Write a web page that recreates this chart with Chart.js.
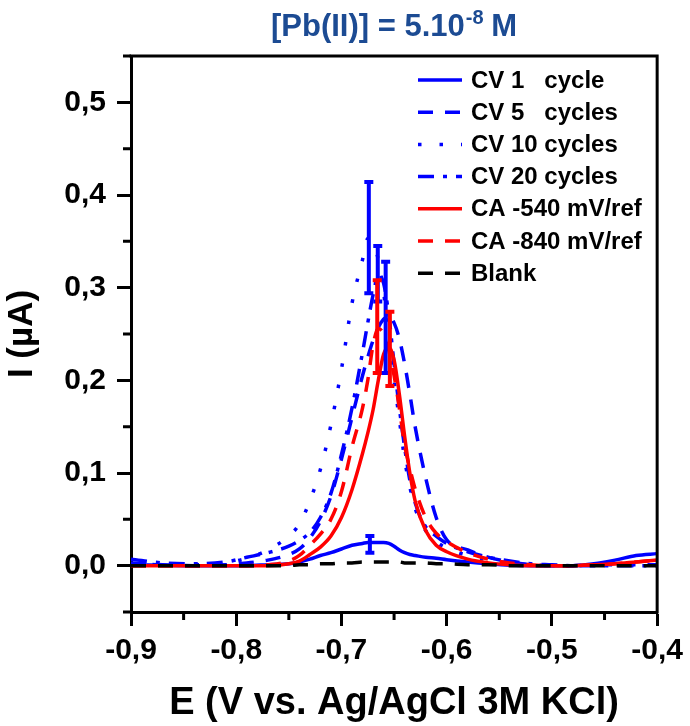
<!DOCTYPE html>
<html>
<head>
<meta charset="utf-8">
<script src="https://cdn.jsdelivr.net/npm/chart.js@4.4.1/dist/chart.umd.min.js"></script>
<style>
  html, body { margin: 0; padding: 0; background: #fff; }
  #wrap { width: 690px; height: 726px; position: relative; }
</style>
</head>
<body>
<div id="wrap"><canvas id="chart"></canvas></div>
<script>
// potential axis (V vs. Ag/AgCl), shared by every curve
const potential = [-0.90, -0.87, -0.84, -0.81, -0.79, -0.77, -0.75, -0.74, -0.73, -0.72, -0.71, -0.70,
  -0.69, -0.68, -0.675, -0.67, -0.665, -0.66, -0.655, -0.65, -0.645, -0.64, -0.635, -0.63,
  -0.62, -0.61, -0.60, -0.58, -0.56, -0.54, -0.52, -0.50, -0.48, -0.46, -0.44, -0.42, -0.40];

// currents in µA
const cv1 = [0.001, 0.0005, 0, 0, 0, 0.001, 0.002, 0.004, 0.007, 0.011, 0.014, 0.018,
  0.022, 0.024, 0.025, 0.025, 0.025, 0.025, 0.024, 0.021, 0.017, 0.014, 0.012, 0.011,
  0.009, 0.008, 0.0065, 0.004, 0.002, 0.0005, 0, 0, 0, 0.002, 0.006, 0.011, 0.013];
const cv5 = [0.003, 0.001, 0, 0.001, 0.003, 0.006, 0.012, 0.018, 0.030, 0.048, 0.075, 0.115,
  0.160, 0.205, 0.225, 0.243, 0.257, 0.266, 0.270, 0.262, 0.245, 0.218, 0.185, 0.150,
  0.095, 0.052, 0.028, 0.017, 0.009, 0.004, 0.001, 0, 0, 0.001, 0.001, 0.001, 0.001];
const cv10 = [0.002, 0.001, 0.001, 0.003, 0.008, 0.017, 0.032, 0.045, 0.070, 0.104, 0.152, 0.212,
  0.283, 0.330, 0.353, 0.348, 0.330, 0.295, 0.250, 0.200, 0.158, 0.115, 0.085, 0.062,
  0.038, 0.026, 0.019, 0.011, 0.006, 0.003, 0.001, 0, 0, 0.001, 0.001, 0.001, 0.001];
const cv20 = [0.007, 0.003, 0.002, 0.004, 0.009, 0.014, 0.021, 0.027, 0.036, 0.052, 0.078, 0.120,
  0.170, 0.230, 0.262, 0.292, 0.313, 0.305, 0.270, 0.218, 0.170, 0.128, 0.092, 0.068,
  0.042, 0.032, 0.024, 0.015, 0.009, 0.005, 0.002, 0.001, 0, 0, 0, 0, 0];
const ca540 = [0, 0, 0, 0, 0, 0, 0.002, 0.005, 0.012, 0.020, 0.032, 0.052,
  0.082, 0.121, 0.143, 0.168, 0.200, 0.228, 0.236, 0.222, 0.185, 0.140, 0.100, 0.070,
  0.038, 0.022, 0.015, 0.007, 0.003, 0.001, 0, 0, 0, 0.001, 0.002, 0.004, 0.006];
const ca840 = [0, 0, 0, 0, 0, 0.001, 0.005, 0.011, 0.022, 0.034, 0.050, 0.080,
  0.128, 0.170, 0.200, 0.238, 0.256, 0.250, 0.232, 0.205, 0.170, 0.130, 0.105, 0.083,
  0.052, 0.035, 0.026, 0.014, 0.007, 0.003, 0.001, 0, 0, 0.001, 0.002, 0.004, 0.006];
const blank = [0, 0, 0, 0, 0, 0, 0, 0.001, 0.001, 0.002, 0.002, 0.003,
  0.003, 0.004, 0.004, 0.004, 0.004, 0.004, 0.004, 0.004, 0.004, 0.003, 0.003, 0.003,
  0.003, 0.002, 0.002, 0.001, 0.001, 0, 0, 0, 0, 0, 0, 0, 0];

const seriesLabels = ['CV 1   cycle', 'CV 5   cycles', 'CV 10 cycles', 'CV 20 cycles',
  'CA -540 mV/ref', 'CA -840 mV/ref', 'Blank'];

// error bars at the peaks: one per series (blank has none)
const errSeries = [0, 1, 2, 3, 4, 5];
const errX = [-0.673, -0.658, -0.674, -0.6655, -0.654, -0.666];
const errY = [0.023, 0.268, 0.354, 0.315, 0.234, 0.258];
const errHalf = [0.009, 0.06, 0.06, 0.03, 0.04, 0.05];

const xMajor = [-0.9, -0.8, -0.7, -0.6, -0.5, -0.4];
const xMinor = [-0.85, -0.75, -0.65, -0.55, -0.45];
const xTickLabels = ['-0,9', '-0,8', '-0,7', '-0,6', '-0,5', '-0,4'];
const yMajor = [0, 0.1, 0.2, 0.3, 0.4, 0.5];
const yMinor = [-0.05, 0.05, 0.15, 0.25, 0.35, 0.45, 0.55];
const yTickLabels = ['0,0', '0,1', '0,2', '0,3', '0,4', '0,5'];

const FONT = "'Liberation Sans', Arial, sans-serif";
const BLUE = '#0000ff';
const RED = '#ff0000';

const toPoints = arr => potential.map((x, i) => ({ x: x, y: arr[i] }));

function makeSet(idx, values, color, dash, order) {
  return {
    label: seriesLabels[idx],
    data: toPoints(values),
    borderColor: color,
    backgroundColor: color,
    borderWidth: 3.5,
    borderDash: dash,
    pointRadius: 0,
    fill: false,
    cubicInterpolationMode: 'monotone',
    order: order
  };
}

const DASH = [15, 12];
const DOT = [3.5, 18];
const DASHDOT = [16, 9, 4, 9];

const datasets = [
  makeSet(0, cv1, BLUE, [], 2),
  makeSet(1, cv5, BLUE, DASH, 2),
  makeSet(2, cv10, BLUE, DOT, 2),
  makeSet(3, cv20, BLUE, DASHDOT, 2),
  makeSet(4, ca540, RED, [], 1),
  makeSet(5, ca840, RED, DASH, 1),
  makeSet(6, blank, '#000000', DASH, 0)
];

// frame, minor ticks, error bars, legend, title
const decorations = {
  id: 'decorations',
  afterDatasetsDraw(chart) {
    const ctx = chart.ctx;
    const xs = chart.scales.x;
    const ys = chart.scales.y;
    ctx.save();

    // error bars
    ctx.lineWidth = 4;
    ctx.setLineDash([]);
    errSeries.forEach((s, i) => {
      const px = xs.getPixelForValue(errX[i]);
      const top = ys.getPixelForValue(errY[i] + errHalf[i]);
      const bot = ys.getPixelForValue(errY[i] - errHalf[i]);
      ctx.strokeStyle = datasets[s].borderColor;
      ctx.beginPath();
      ctx.moveTo(px, top); ctx.lineTo(px, bot);
      ctx.moveTo(px - 4.5, top); ctx.lineTo(px + 4.5, top);
      ctx.moveTo(px - 4.5, bot); ctx.lineTo(px + 4.5, bot);
      ctx.stroke();
    });
    ctx.restore();
  },
  afterDraw(chart) {
    const ctx = chart.ctx;
    const area = chart.chartArea;
    const xs = chart.scales.x;
    const ys = chart.scales.y;
    ctx.save();
    ctx.strokeStyle = '#000';
    ctx.lineWidth = 3;
    ctx.setLineDash([]);

    // top and right frame
    ctx.beginPath();
    ctx.moveTo(area.left - 1.5, area.top);
    ctx.lineTo(area.right, area.top);
    ctx.lineTo(area.right, area.bottom + 1.5);
    ctx.stroke();

    // minor ticks
    ctx.beginPath();
    xMinor.forEach(v => {
      const px = xs.getPixelForValue(v);
      ctx.moveTo(px, area.bottom); ctx.lineTo(px, area.bottom + 8);
    });
    yMinor.forEach(v => {
      const py = ys.getPixelForValue(v);
      ctx.moveTo(area.left, py); ctx.lineTo(area.left - 8, py);
    });
    ctx.stroke();

    // legend
    const lx0 = 418, lx1 = 462, tx = 471, ly0 = 80, step = 32.2;
    ctx.font = 'bold 24px ' + FONT;
    ctx.textBaseline = 'middle';
    ctx.textAlign = 'left';
    datasets.forEach((d, i) => {
      const y = ly0 + i * step;
      ctx.strokeStyle = d.borderColor;
      ctx.lineWidth = 3.5;
      ctx.setLineDash(d.borderDash);
      ctx.beginPath();
      ctx.moveTo(lx0, y); ctx.lineTo(lx1, y);
      ctx.stroke();
      ctx.fillStyle = '#000';
      ctx.fillText(d.label, tx, y + 1);
    });
    ctx.setLineDash([]);

    // title with superscript
    const main = '[Pb(II)] = 5.10';
    const sup = '-8';
    const tail = ' M';
    ctx.fillStyle = '#1c4b93';
    ctx.textBaseline = 'alphabetic';
    ctx.font = 'bold 31px ' + FONT;
    const wMain = ctx.measureText(main).width;
    const wTail = ctx.measureText(tail).width;
    ctx.font = 'bold 20px ' + FONT;
    const wSup = ctx.measureText(sup).width;
    let x = 394 - (wMain + wSup + wTail) / 2;
    const base = 36;
    ctx.font = 'bold 31px ' + FONT;
    ctx.fillText(main, x, base);
    x += wMain;
    ctx.font = 'bold 20px ' + FONT;
    ctx.fillText(sup, x + 1, base - 12);
    x += wSup;
    ctx.font = 'bold 31px ' + FONT;
    ctx.fillText(tail, x, base);
    ctx.restore();
  }
};

new Chart(document.getElementById('chart'), {
  type: 'line',
  data: { datasets: datasets },
  options: {
    responsive: true,
    maintainAspectRatio: false,
    animation: false,
    devicePixelRatio: 1,
    layout: { padding: { left: 0, right: 29, top: 56, bottom: 0 } },
    plugins: {
      legend: { display: false },
      tooltip: { enabled: false },
      title: { display: false }
    },
    scales: {
      x: {
        type: 'linear',
        min: -0.9,
        max: -0.4,
        afterBuildTicks: s => { s.ticks = xMajor.map(v => ({ value: v })); },
        afterFit: s => { s.height = 114; },
        ticks: {
          callback: (v, i) => xTickLabels[i],
          font: { family: FONT, size: 30, weight: 'bold' },
          color: '#000',
          padding: 7,
          maxRotation: 0,
          autoSkip: false
        },
        grid: { drawOnChartArea: false, tickLength: 14, tickWidth: 3, tickColor: '#000' },
        border: { color: '#000', width: 3 },
        title: {
          display: true,
          text: 'E (V vs. Ag/AgCl 3M KCl)',
          color: '#000',
          font: { family: FONT, size: 38, weight: 'bold' },
          padding: { top: 0, bottom: 0 }
        }
      },
      y: {
        type: 'linear',
        min: -0.05,
        max: 0.55,
        afterBuildTicks: s => { s.ticks = yMajor.map(v => ({ value: v })); },
        afterFit: s => { s.width = 131; },
        ticks: {
          callback: (v, i) => yTickLabels[i],
          font: { family: FONT, size: 30, weight: 'bold' },
          color: '#000',
          padding: 11
        },
        grid: { drawOnChartArea: false, tickLength: 14, tickWidth: 3, tickColor: '#000' },
        border: { color: '#000', width: 3 },
        title: {
          display: true,
          text: 'I (µA)',
          color: '#000',
          font: { family: FONT, size: 35, weight: 'bold' },
          padding: { top: 1, bottom: 0 }
        }
      }
    }
  },
  plugins: [decorations]
});
</script>
</body>
</html>
